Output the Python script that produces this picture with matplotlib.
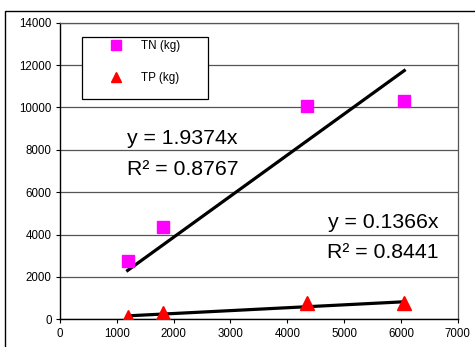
import matplotlib.pyplot as plt
from matplotlib.patches import Rectangle
import numpy as np

plt.rcParams['font.family'] = ['Liberation Sans', 'DejaVu Sans']

# loads vs. flow
x_vals = [1190, 1820, 4340, 6060]
tn_kg = [2770, 4350, 10080, 10290]
tp_kg = [130, 320, 790, 760]

tn_slope = 1.9374
tp_slope = 0.1366
tn_eq, tn_r2 = "y = 1.9374x", "R² = 0.8767"
tp_eq, tp_r2 = "y = 0.1366x", "R² = 0.8441"

x_ticks = [0, 1000, 2000, 3000, 4000, 5000, 6000, 7000]
y_ticks = [0, 2000, 4000, 6000, 8000, 10000, 12000, 14000]

W, H = 475, 347
fig = plt.figure(figsize=(W / 100, H / 100), dpi=100)
ax = fig.add_axes([60 / W, 1 - 319.3 / H, (457.7 - 60) / W, (319.3 - 22.7) / H])

# outer chart frame
fig.patches.append(Rectangle((5 / W, -0.2), 1.2, 1 - 11 / H + 0.2,
                             transform=fig.transFigure, fill=False,
                             edgecolor='black', linewidth=1.0, zorder=0))

ax.set_xlim(0, 7000)
ax.set_ylim(0, 14000)
ax.set_xticks(x_ticks)
ax.set_yticks(y_ticks)
ax.tick_params(labelsize=8.3, length=3, width=0.8, direction='out', pad=3)
ax.yaxis.grid(True, color='#555555', linewidth=0.9)
ax.set_axisbelow(True)
for side in ['top', 'right']:
    ax.spines[side].set_color('#555555')
    ax.spines[side].set_linewidth(0.9)
for side in ['left', 'bottom']:
    ax.spines[side].set_linewidth(1.0)

x = np.array(x_vals)
xs = np.array([x.min(), x.max()])
ax.plot(xs, tn_slope * xs, color='black', linewidth=2.3, zorder=3)
ax.plot(xs, tp_slope * xs, color='black', linewidth=2.3, zorder=3)

ax.plot(x_vals, tn_kg, linestyle='none', marker='s', markersize=9.3,
        color='#FF00FF', zorder=4, label='TN (kg)')
ax.plot(x_vals, tp_kg, linestyle='none', marker='^', markersize=9.5,
        color='#FF0000', zorder=4, label='TP (kg)')

# trendline equations
ax.text(1185, 8260, tn_eq, fontsize=15.3, ha='left', va='baseline')
ax.text(1185, 6810, tn_r2, fontsize=15.3, ha='left', va='baseline')
ax.text(6660, 4295, tp_eq, fontsize=15.3, ha='right', va='baseline')
ax.text(6660, 2880, tp_r2, fontsize=15.3, ha='right', va='baseline')

# legend box
ax.add_patch(Rectangle((0.0546, 0.7417), 0.3729 - 0.0546, 0.9528 - 0.7417,
                       transform=ax.transAxes, facecolor='white',
                       edgecolor='black', linewidth=0.9, zorder=2))
leg = ax.legend(loc='upper left', bbox_to_anchor=(0.1121, 0.942),
                fontsize=8.4, frameon=False, borderpad=0, borderaxespad=0,
                labelspacing=1.72, handlelength=2, handletextpad=1.1,
                markerscale=0.77)
leg.set_zorder(5)

fig.savefig('out.png', dpi=100)
